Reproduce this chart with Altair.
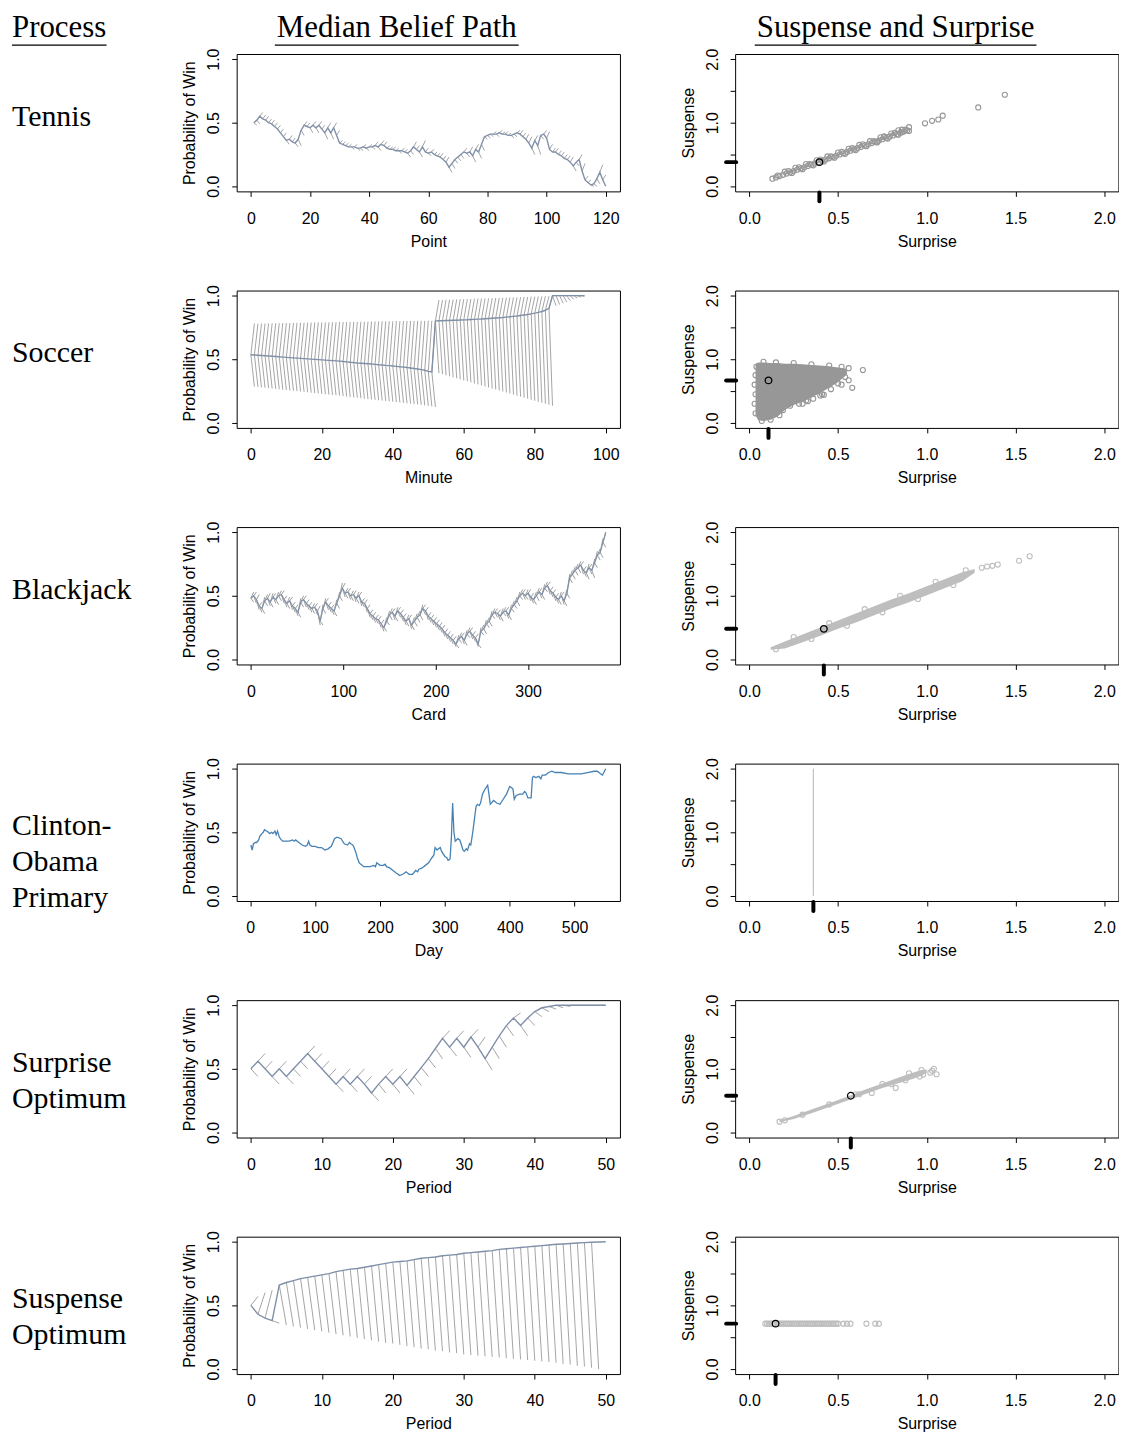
import altair as alt
import pandas as pd

# ---------------------------------------------------------------- text
headers = ["Process", "Median Belief Path", "Suspense and Surprise"]
process_labels = ["Tennis", "Soccer", "Blackjack", "Clinton-\nObama\nPrimary",
                  "Surprise\nOptimum", "Suspense\nOptimum"]
x_titles = ["Point", "Minute", "Card", "Day", "Period", "Period"]

# ---------------------------------------------------------------- belief paths
# Tennis: median path at points 1..120 ; unrealised branch ends at points 2..120
tennis_path = [.50, .52, .55, .53, .52, .50, .49, .47, .45, .42,
               .39, .36, .37, .35, .34, .37, .44, .48, .47, .46,
               .48, .46, .48, .45, .42, .46, .42, .46, .40, .34,
               .33, .32, .31, .31, .31, .30, .30, .31, .30, .31,
               .31, .32, .31, .33, .32, .30, .29, .29, .28, .28,
               .28, .27, .26, .28, .31, .29, .27, .31, .27, .26,
               .27, .25, .24, .23, .21, .19, .15, .18, .21, .23,
               .25, .27, .26, .27, .24, .29, .27, .33, .39, .40,
               .41, .41, .41, .42, .41, .41, .40, .40, .41, .42,
               .41, .39, .37, .34, .30, .36, .32, .40, .41, .38,
               .29, .27, .27, .25, .24, .22, .21, .19, .16, .19,
               .21, .12, .05, .03, .01, .02, .06, .11, .05, .00]
tennis_alt = [.48, .49, .58, .56, .55, .53, .52, .50, .48, .45,
              .42, .33, .40, .38, .31, .32, .40, .51, .50, .42,
              .51, .42, .51, .48, .37, .50, .37, .50, .44, .36,
              .35, .34, .33, .29, .33, .28, .28, .33, .28, .33,
              .29, .35, .28, .36, .35, .32, .31, .31, .30, .26,
              .30, .29, .23, .25, .35, .32, .23, .36, .30, .24,
              .29, .27, .26, .26, .24, .23, .11, .14, .18, .20,
              .22, .30, .23, .31, .19, .33, .22, .28, .37, .38,
              .39, .43, .39, .44, .43, .43, .42, .38, .39, .44,
              .44, .42, .41, .39, .25, .40, .25, .37, .44, .43,
              .33, .30, .30, .28, .27, .25, .24, .23, .12, .16,
              .25, .18, .08, .05, .00, .00, .02, .17, .09]

# Soccer: path at minutes 0..94 ; goal-for / goal-against branch ends at minutes 1..94
soccer_path = [.535, .533, .531, .529, .527, .525, .523, .521, .519, .517,
               .515, .513, .511, .509, .507, .505, .503, .501, .499, .497,
               .495, .493, .491, .489, .487, .485, .482, .479, .476, .473,
               .470, .468, .466, .464, .462, .460, .457, .455, .452, .450,
               .447, .444, .441, .438, .435, .431, .427, .423, .418, .413,
               .405, .400,
               .800, .802, .803, .804, .805, .806, .807, .808, .809, .810,
               .812, .813, .815, .816, .818, .820, .822, .824, .826, .828,
               .831, .834, .837, .840, .844, .848, .852, .857, .862, .868,
               .875, .885, .900,
               1.0, 1.0, 1.0, 1.0, 1.0, 1.0, 1.0, 1.0, 1.0, 1.0]
soccer_hi = [.780, .780, .781, .781, .782, .782, .783, .783, .784, .784,
             .785, .785, .786, .786, .787, .787, .788, .788, .789, .789,
             .790, .790, .791, .791, .792, .792, .793, .793, .794, .794,
             .795, .795, .796, .796, .797, .797, .798, .798, .799, .799,
             .800, .800, .800, .801, .801, .801, .802, .802, .802, .803,
             .803, .800,
             .965, .966, .967, .968, .969, .970, .971, .972, .973, .974,
             .975, .976, .977, .978, .979, .980, .981, .982, .983, .984,
             .985, .986, .987, .988, .989, .990, .991, .992, .993, .994,
             .995, .996, 1.0,
             1.0, 1.0, 1.0, 1.0, 1.0, 1.0, 1.0, 1.0, 1.0]
soccer_lo = [.285, .282, .279, .276, .273, .270, .267, .264, .261, .258,
             .255, .252, .249, .246, .243, .240, .237, .234, .231, .228,
             .225, .222, .219, .216, .213, .210, .206, .203, .200, .197,
             .194, .190, .187, .184, .181, .178, .175, .172, .169, .166,
             .163, .160, .157, .154, .151, .148, .145, .141, .137, .133,
             .129, .125,
             .390, .382, .374, .366, .358, .350, .342, .334, .326, .318,
             .310, .302, .294, .286, .278, .270, .262, .254, .246, .238,
             .230, .222, .214, .206, .198, .190, .182, .174, .166, .158,
             .150, .142, .135,
             .920, .930, .940, .950, .960, .970, .980, .988, .995]

# Blackjack: path every third card 0..384 ; two sets of branch ends at cards 3..384
blackjack_path = [.48, .50, .47, .42, .40, .46, .48, .45, .49, .47,
                  .50, .51, .47, .44, .46, .42, .40, .37, .45, .47,
                  .44, .42, .40, .41, .38, .30, .40, .45, .42, .40,
                  .38, .44, .50, .56, .52, .53, .50, .51, .48, .50,
                  .45, .44, .40, .36, .34, .32, .31, .28, .25, .30,
                  .35, .37, .34, .38, .36, .33, .30, .32, .27, .30,
                  .33, .35, .40, .38, .34, .32, .30, .28, .26, .24,
                  .21, .19, .17, .15, .12, .16, .18, .15, .20, .22,
                  .19, .17, .12, .22, .24, .28, .30, .35, .37, .36,
                  .34, .37, .38, .35, .40, .43, .46, .50, .52, .50,
                  .52, .49, .47, .50, .53, .51, .56, .58, .54, .52,
                  .49, .47, .50, .46, .52, .64, .67, .70, .72, .74,
                  .70, .68, .72, .70, .76, .82, .84, .92, 1.00]
blackjack_alt = [.45, .53, .51, .45, .36, .42, .52, .41, .52, .43,
                 .46, .54, .50, .40, .49, .45, .43, .33, .41, .50,
                 .47, .45, .36, .44, .42, .27, .36, .48, .45, .43,
                 .34, .40, .46, .60, .48, .56, .46, .54, .44, .53,
                 .48, .47, .43, .39, .37, .35, .34, .31, .22, .27,
                 .31, .40, .30, .41, .39, .36, .26, .35, .23, .26,
                 .29, .31, .43, .41, .37, .35, .33, .31, .29, .27,
                 .24, .22, .20, .18, .09, .13, .21, .11, .17, .25,
                 .22, .20, .09, .19, .20, .25, .26, .32, .40, .39,
                 .30, .34, .41, .31, .37, .40, .42, .47, .55, .47,
                 .55, .52, .43, .46, .56, .47, .53, .61, .57, .55,
                 .52, .43, .53, .42, .48, .60, .63, .66, .68, .77,
                 .73, .63, .75, .64, .72, .78, .80, .88]
blackjack_alt2 = [.53, .44, .39, .37, .49, .51, .42, .52, .44, .53,
                  .54, .44, .41, .49, .39, .37, .34, .48, .50, .41,
                  .39, .37, .44, .35, .27, .43, .48, .39, .37, .35,
                  .47, .53, .60, .49, .56, .47, .54, .45, .53, .42,
                  .41, .37, .33, .31, .29, .28, .25, .22, .33, .38,
                  .40, .31, .41, .33, .30, .27, .35, .24, .33, .36,
                  .38, .43, .35, .31, .29, .27, .25, .23, .21, .18,
                  .16, .14, .12, .10, .19, .21, .12, .23, .25, .16,
                  .14, .10, .25, .27, .31, .33, .38, .40, .33, .31,
                  .40, .41, .32, .43, .46, .49, .53, .55, .47, .55,
                  .46, .44, .53, .56, .48, .59, .61, .51, .49, .46,
                  .44, .53, .43, .55, .67, .70, .73, .75, .77, .67,
                  .65, .75, .67, .79, .85, .87, .95, .99]

# Clinton-Obama primary: daily probability (sampled days)
clinton_day = [1, 3, 5, 8, 10, 13, 15, 18, 20, 22,
               25, 28, 30, 33, 35, 38, 40, 42, 45, 48,
               50, 55, 60, 65, 68, 70, 75, 80, 85, 88,
               90, 92, 95, 100, 105, 110, 115, 120, 125, 130,
               133, 135, 140, 145, 150, 153, 155, 158, 160, 163,
               165, 168, 170, 175, 180, 185, 190, 193, 195, 200,
               205, 208, 210, 215, 220, 225, 228, 230, 235, 238,
               240, 245, 250, 252, 255, 258, 260, 265, 270, 275,
               280, 283, 285, 288, 290, 293, 295, 300, 303, 305,
               308, 310, 312, 314, 316, 320, 323, 325, 328, 330,
               333, 335, 338, 340, 343, 345, 348, 350, 353, 355,
               358, 362, 366, 368, 370, 375, 380, 385, 390, 395,
               400, 403, 405, 407, 410, 415, 420, 423, 425, 428,
               433, 435, 437, 440, 445, 448, 450, 455, 460, 465,
               470, 480, 490, 500, 510, 520, 530, 535, 540, 543,
               545, 548]
clinton_prob = [.40, .36, .41, .42, .42, .44, .47, .49, .50, .52,
                .51, .50, .49, .50, .49, .51, .48, .51, .46, .44,
                .43, .43, .43, .44, .43, .44, .42, .40, .39, .40,
                .43, .40, .39, .39, .38, .38, .36, .37, .39, .45,
                .46, .46, .45, .41, .40, .42, .41, .40, .38, .34,
                .30, .26, .25, .23, .23, .23, .24, .23, .26, .24,
                .24, .25, .23, .22, .20, .18, .17, .16, .17, .18,
                .19, .17, .17, .18, .20, .19, .21, .22, .24, .26,
                .30, .32, .38, .36, .37, .38, .35, .31, .30, .28,
                .29, .45, .73, .50, .43, .45, .44, .41, .36, .35,
                .37, .36, .41, .40, .50, .58, .70, .72, .71, .73,
                .80, .84, .87, .80, .72, .75, .73, .72, .76, .80,
                .86, .85, .84, .76, .79, .80, .80, .82, .81, .77,
                .77, .93, .94, .93, .94, .92, .95, .95, .97, .98,
                .97, .97, .96, .96, .96, .97, .98, .98, .96, .95,
                .97, 1.00]

# Surprise optimum: path at periods 0..50 ; branch ends at periods 1..50
surpopt_path = [.50, .56, .50, .44, .50, .44, .50, .56, .62, .56,
                .50, .44, .38, .44, .38, .44, .38, .31, .38, .44,
                .38, .44, .37, .44, .51, .58, .66, .74, .67, .74,
                .67, .75, .67, .58, .67, .76, .84, .90, .84, .90,
                .95, .98, .99, 1.0, 1.0, 1.0, 1.0, 1.0, 1.0, 1.0,
                1.0]
surpopt_alt = [.44, .62, .56, .38, .56, .38, .44, .50, .68, .62,
               .56, .50, .32, .50, .32, .50, .44, .25, .31, .50,
               .31, .50, .30, .37, .44, .51, .58, .80, .60, .80,
               .59, .81, .75, .49, .58, .67, .76, .94, .76, .84,
               .91, .95, .97, .98, .99, 1.0, 1.0, 1.0, 1.0, 1.0]

# Suspense optimum: path at periods 0..50 ; branch ends at periods 1..49
suspopt_path = [.50, .43, .40, .38, .66, .68, .695, .71, .72, .73,
                .74, .75, .765, .775, .785, .79, .80, .81, .82, .83,
                .84, .845, .85, .86, .87, .875, .88, .89, .895, .90,
                .91, .915, .92, .925, .93, .94, .945, .95, .955, .96,
                .965, .97, .975, .98, .983, .986, .99, .993, .996, .998,
                1.0]
suspopt_alt = [.57, .60, .62, .36, .345, .335, .325, .315, .305, .295,
               .285, .275, .265, .255, .245, .235, .225, .215, .205, .20,
               .19, .18, .17, .16, .155, .145, .14, .13, .125, .115,
               .11, .105, .10, .095, .09, .085, .08, .075, .07, .065,
               .06, .055, .05, .04, .035, .025, .02, .01, .00]

# ---------------------------------------------------------------- suspense / surprise
tennis_sur = [0.13, 0.15, 0.17, 0.19, 0.21, 0.23, 0.25, 0.27, 0.29, 0.31,
              0.33, 0.35, 0.37, 0.39, 0.41, 0.43, 0.45, 0.47, 0.49, 0.51,
              0.53, 0.55, 0.57, 0.59, 0.61, 0.63, 0.65, 0.67, 0.69, 0.71,
              0.73, 0.75, 0.77, 0.79, 0.81, 0.83, 0.85, 0.87, 0.89, 0.90,
              0.20, 0.26, 0.32, 0.38, 0.44, 0.50, 0.56, 0.62, 0.68, 0.74, 0.80, 0.86,
              0.24, 0.30, 0.36, 0.42, 0.48, 0.54, 0.60, 0.66, 0.72, 0.78, 0.84, 0.90,
              0.16, 0.22, 0.28, 0.34, 0.40, 0.46, 0.52, 0.58, 0.64, 0.70, 0.76, 0.82, 0.88,
              0.84, 0.86, 0.76, 0.72,
              0.99, 1.03, 1.065, 1.09, 1.29, 1.44]
tennis_sus = [0.12, 0.14, 0.16, 0.18, 0.20, 0.22, 0.24, 0.26, 0.28, 0.30,
              0.32, 0.34, 0.36, 0.38, 0.40, 0.42, 0.44, 0.46, 0.48, 0.50,
              0.52, 0.54, 0.56, 0.58, 0.60, 0.62, 0.64, 0.66, 0.68, 0.70,
              0.72, 0.74, 0.76, 0.78, 0.80, 0.82, 0.84, 0.86, 0.88, 0.93,
              0.23, 0.29, 0.35, 0.41, 0.47, 0.53, 0.59, 0.65, 0.71, 0.77, 0.83, 0.89,
              0.21, 0.27, 0.33, 0.39, 0.45, 0.51, 0.57, 0.63, 0.69, 0.75, 0.81, 0.87,
              0.17, 0.24, 0.30, 0.35, 0.42, 0.47, 0.54, 0.60, 0.66, 0.71, 0.78, 0.84, 0.89,
              0.88, 0.85, 0.78, 0.70,
              0.99, 1.03, 1.05, 1.11, 1.24, 1.44]

soccer_cloud_x = [0.035, 0.05, 0.08, 0.12, 0.16, 0.20, 0.25, 0.30, 0.35, 0.40, 0.45, 0.50, 0.55]
soccer_cloud_top = [0.93, 0.95, 0.95, 0.94, 0.94, 0.93, 0.93, 0.92, 0.91, 0.90, 0.89, 0.87, 0.85]
soccer_cloud_bot = [0.12, 0.04, 0.03, 0.05, 0.10, 0.20, 0.28, 0.33, 0.40, 0.47, 0.55, 0.64, 0.76]
soccer_sur = [0.035, 0.030, 0.035, 0.030, 0.035, 0.040,
              0.08, 0.15, 0.25, 0.35, 0.45, 0.52, 0.56,
              0.07, 0.12, 0.17, 0.19, 0.23, 0.28, 0.32, 0.36, 0.41, 0.46, 0.50, 0.54,
              0.64, 0.58, 0.56, 0.52, 0.42, 0.40, 0.33, 0.30]
soccer_sus = [0.15, 0.30, 0.45, 0.60, 0.75, 0.88,
              0.96, 0.95, 0.94, 0.92, 0.90, 0.88, 0.86,
              0.03, 0.05, 0.12, 0.20, 0.27, 0.30, 0.35, 0.38, 0.45, 0.53, 0.62, 0.72,
              0.83, 0.55, 0.67, 0.60, 0.44, 0.43, 0.34, 0.30]

blackjack_cloud_x = [0.12, 0.20, 0.30, 0.40, 0.50, 0.60, 0.70, 0.80, 0.90, 1.00, 1.10, 1.20, 1.27]
blackjack_cloud_top = [0.19, 0.28, 0.39, 0.50, 0.61, 0.72, 0.83, 0.94, 1.04, 1.15, 1.26, 1.37, 1.42]
blackjack_cloud_bot = [0.15, 0.17, 0.27, 0.37, 0.48, 0.58, 0.69, 0.80, 0.90, 1.01, 1.12, 1.23, 1.36]
blackjack_sur = [0.25, 0.45, 0.65, 0.85, 1.05, 1.22, 0.15, 0.35, 0.55, 0.75, 0.95, 1.15,
                 1.31, 1.34, 1.37, 1.40, 1.52, 1.58]
blackjack_sus = [0.35, 0.57, 0.79, 1.00, 1.22, 1.40, 0.16, 0.32, 0.53, 0.74, 0.95, 1.17,
                 1.44, 1.46, 1.47, 1.49, 1.55, 1.62]

surpopt_cloud_x = [0.17, 0.25, 0.35, 0.45, 0.55, 0.65, 0.75, 0.85, 0.92, 0.97, 1.00]
surpopt_cloud_top = [0.19, 0.26, 0.36, 0.46, 0.56, 0.67, 0.77, 0.87, 0.94, 0.98, 0.99]
surpopt_cloud_bot = [0.16, 0.21, 0.30, 0.40, 0.50, 0.60, 0.70, 0.78, 0.84, 0.89, 0.94]
surpopt_sur = [1.04, 1.055, 1.02, 1.03, 0.825, 0.69, 0.62, 0.98, 0.96,
               0.17, 0.20, 0.30, 0.45, 0.60, 0.75, 0.90, 0.97, 0.80, 0.88]
surpopt_sus = [1.00, 0.915, 0.94, 0.97, 0.70, 0.62, 0.60, 0.91, 0.88,
               0.17, 0.19, 0.28, 0.44, 0.60, 0.76, 0.93, 0.98, 0.76, 0.82]

suspopt_sur = [0.09, 0.10, 0.11, 0.12, 0.13, 0.14, 0.16, 0.17, 0.18, 0.19,
               0.20, 0.21, 0.22, 0.23, 0.24, 0.25, 0.26, 0.27, 0.28, 0.29,
               0.30, 0.31, 0.32, 0.33, 0.34, 0.35, 0.36, 0.37, 0.38, 0.39,
               0.40, 0.41, 0.42, 0.43, 0.44, 0.45, 0.46, 0.47, 0.48, 0.49,
               0.50, 0.53, 0.55, 0.57, 0.66, 0.71, 0.73]
suspopt_level = 0.713

clinton_surprise = 0.361

# medians (black circle) and rug positions
median_sur = [0.395, 0.108, 0.42, 0.361, 0.572, 0.148]
median_sus = [0.38, 0.667, 0.48, None, 0.577, 0.713]

# ---------------------------------------------------------------- styling
SERIF = "Liberation Serif"
SANS = "Liberation Sans"
PATH_COLOR = "#8090A8"
HAIR_COLOR = "#A4A4A4"
CLINTON_COLOR = "#4682B4"
DARK_PT = "#979797"
LIGHT_PT = "#BEBEBE"
W, H = 385, 138
LABEL_W = 113
HEAD_Y = -17
UL_Y = -9


def x_axis(values, title, fmt):
    return alt.Axis(values=values, title=title, format=fmt, labelFlush=False,
                    labelOverlap=False, labelPadding=14, titlePadding=7)


def y_axis(values, title, label_expr):
    return alt.Axis(values=values, title=title, labelExpr=label_expr,
                    labelAngle=270, labelAlign="center", labelBaseline="alphabetic",
                    labelPadding=13, titlePadding=8, labelOverlap=False,
                    labelFlush=False)


def header_layers(text, tx, align, u1, u2):
    d = pd.DataFrame({"t": [text]})
    t = alt.Chart(d).mark_text(font=SERIF, fontSize=31, align=align,
                               baseline="alphabetic", color="black").encode(
        text="t:N", x=alt.value(tx), y=alt.value(HEAD_Y))
    u = alt.Chart(d).mark_rule(color="black", strokeWidth=1.2).encode(
        x=alt.value(u1), x2=alt.value(u2), y=alt.value(UL_Y))
    return [t, u]


def hairs(x_from, y_from, x_to, y_to):
    return pd.DataFrame({"x": x_from, "y": y_from, "x2": x_to, "y2": y_to})


def belief_chart(px, py, hair_frames, xdom, xticks, xtitle, color, lw,
                 hair_color=HAIR_COLOR, extra=()):
    xs = alt.Scale(domain=xdom, nice=False, zero=False)
    ys = alt.Scale(domain=[-0.04, 1.04], nice=False, zero=False)
    xenc = alt.X("x:Q", scale=xs, axis=x_axis(xticks, xtitle, "d"))
    yenc = alt.Y("y:Q", scale=ys, axis=y_axis([0, 0.5, 1], "Probability of Win",
                                            "format(datum.value, '.1f')"))
    layers = []
    for hf in hair_frames:
        layers.append(alt.Chart(hf).mark_rule(color=hair_color, strokeWidth=1).encode(
            x=xenc, y=yenc, x2="x2:Q", y2="y2:Q"))
    layers.append(alt.Chart(pd.DataFrame({"x": px, "y": py})).mark_line(
        color=color, strokeWidth=lw).encode(x=xenc, y=yenc))
    layers.extend(extra)
    return alt.layer(*layers).properties(width=W, height=H)


def scatter_chart(sx, sy, color, cloud=None, center=None, rug_x=None, rug_y=None,
                  vline=None, extra=()):
    xs = alt.Scale(domain=[-0.08, 2.08], nice=False, zero=False)
    ys = alt.Scale(domain=[-0.08, 2.08], nice=False, zero=False)
    xenc = alt.X("x:Q", scale=xs, axis=x_axis([0, 0.5, 1, 1.5, 2], "Surprise", ".1f"))
    yenc = alt.Y("y:Q", scale=ys, axis=y_axis(
        [0, 0.5, 1, 1.5, 2], "Suspense",
        "datum.value == 0.5 || datum.value == 1.5 ? '' : format(datum.value, '.1f')"))
    layers = []
    if cloud is not None:
        cx, ctop, cbot = cloud
        layers.append(alt.Chart(pd.DataFrame({"x": cx, "y": ctop, "y2": cbot})).mark_area(
            color=color, opacity=1).encode(x=xenc, y=yenc, y2="y2:Q"))
    if vline is not None:
        layers.append(alt.Chart(pd.DataFrame({"x": [vline], "y": [0.0], "y2": [2.0]})).mark_rule(
            color="#C4C4C4", strokeWidth=1.3).encode(x=xenc, y=yenc, y2="y2:Q"))
    if sx:
        layers.append(alt.Chart(pd.DataFrame({"x": sx, "y": sy})).mark_point(
            shape="circle", filled=False, size=26, strokeWidth=1.1, color=color,
            opacity=1).encode(x=xenc, y=yenc))
    if center is not None:
        layers.append(alt.Chart(pd.DataFrame({"x": [center[0]], "y": [center[1]]})).mark_point(
            shape="circle", filled=False, size=44, strokeWidth=1.3, color="black",
            opacity=1).encode(x=xenc, y=yenc))
    if rug_x is not None:
        layers.append(alt.Chart(pd.DataFrame({"x": [rug_x]})).mark_rule(
            color="black", strokeWidth=4, strokeCap="round").encode(
            x=xenc, y=alt.value(H + 1), y2=alt.value(H + 10)))
    if rug_y is not None:
        layers.append(alt.Chart(pd.DataFrame({"y": [rug_y]})).mark_rule(
            color="black", strokeWidth=4, strokeCap="round").encode(
            y=yenc, x=alt.value(-9), x2=alt.value(1)))
    layers.extend(extra)
    return alt.layer(*layers).properties(width=W, height=H)


def label_chart(text, extra=()):
    d = pd.DataFrame({"t": [text]})
    t = alt.Chart(d).mark_text(font=SERIF, fontSize=30, align="left", baseline="middle",
                               lineBreak="\n", lineHeight=36, color="black").encode(
        text="t:N", x=alt.value(3), y=alt.value(63))
    return alt.layer(t, *extra).properties(
        width=LABEL_W, height=H, view=alt.ViewBackground(stroke="transparent"))


# ---------------------------------------------------------------- hair tables
t_tennis = list(range(1, len(tennis_path) + 1))
tennis_h = hairs(t_tennis[:-1], tennis_path[:-1], t_tennis[1:], tennis_alt)

t_soccer = list(range(len(soccer_path)))
soccer_h1 = hairs(t_soccer[:-1], soccer_path[:-1], t_soccer[1:], soccer_hi)
soccer_h2 = hairs(t_soccer[:-1], soccer_path[:-1], t_soccer[1:], soccer_lo)

t_bj = [3 * i for i in range(len(blackjack_path))]
bj_h1 = hairs(t_bj[:-1], blackjack_path[:-1], t_bj[1:], blackjack_alt)
bj_h2 = hairs(t_bj[:-1], blackjack_path[:-1], t_bj[1:], blackjack_alt2)

t_opt = list(range(len(surpopt_path)))
surp_h = hairs(t_opt[:-1], surpopt_path[:-1], t_opt[1:], surpopt_alt)
n_s = len(suspopt_alt)
susp_h = hairs(t_opt[:n_s], suspopt_path[:n_s], t_opt[1:n_s + 1], suspopt_alt)

# ---------------------------------------------------------------- panels
cells = []

# row 1 : tennis (with column headers)
cells.append(label_chart(process_labels[0], header_layers(headers[0], 3, "left", 3, 98)))
cells.append(belief_chart(t_tennis, tennis_path, [tennis_h], [-4.8, 124.8],
                          list(range(0, 121, 20)), x_titles[0], PATH_COLOR, 1.4,
                          extra=header_layers(headers[1], 160.8, "center", 38.3, 283.3)))
cells.append(scatter_chart(tennis_sur, tennis_sus, DARK_PT,
                           center=(median_sur[0], median_sus[0]),
                           rug_x=median_sur[0], rug_y=median_sus[0],
                           extra=header_layers(headers[2], 161.2, "center", 19.7, 302.7)))

# row 2 : soccer
cells.append(label_chart(process_labels[1]))
cells.append(belief_chart(t_soccer, soccer_path, [soccer_h1, soccer_h2], [-4, 104],
                          list(range(0, 101, 20)), x_titles[1], PATH_COLOR, 1.4))
cells.append(scatter_chart(soccer_sur, soccer_sus, DARK_PT,
                           cloud=(soccer_cloud_x, soccer_cloud_top, soccer_cloud_bot),
                           center=(median_sur[1], median_sus[1]),
                           rug_x=median_sur[1], rug_y=median_sus[1]))

# row 3 : blackjack
cells.append(label_chart(process_labels[2]))
cells.append(belief_chart(t_bj, blackjack_path, [bj_h1, bj_h2], [-15.4, 399.4],
                          [0, 100, 200, 300, 400], x_titles[2], PATH_COLOR, 1.2,
                          hair_color="#9C9C9C"))
cells.append(scatter_chart(blackjack_sur, blackjack_sus, LIGHT_PT,
                           cloud=(blackjack_cloud_x, blackjack_cloud_top, blackjack_cloud_bot),
                           center=(median_sur[2], median_sus[2]),
                           rug_x=median_sur[2], rug_y=median_sus[2]))

# row 4 : Clinton-Obama
cells.append(label_chart(process_labels[3]))
cells.append(belief_chart(clinton_day, clinton_prob, [], [-20.9, 569.9],
                          [0, 100, 200, 300, 400, 500], x_titles[3], CLINTON_COLOR, 1.3))
cells.append(scatter_chart([], [], LIGHT_PT, rug_x=median_sur[3], vline=clinton_surprise))

# row 5 : surprise optimum
cells.append(label_chart(process_labels[4]))
cells.append(belief_chart(t_opt, surpopt_path, [surp_h], [-2, 52],
                          [0, 10, 20, 30, 40, 50], x_titles[4], PATH_COLOR, 1.4))
cells.append(scatter_chart(surpopt_sur, surpopt_sus, LIGHT_PT,
                           cloud=(surpopt_cloud_x, surpopt_cloud_top, surpopt_cloud_bot),
                           center=(median_sur[4], median_sus[4]),
                           rug_x=median_sur[4], rug_y=median_sus[4]))

# row 6 : suspense optimum
cells.append(label_chart(process_labels[5]))
cells.append(belief_chart(t_opt, suspopt_path, [susp_h], [-2, 52],
                          [0, 10, 20, 30, 40, 50], x_titles[5], PATH_COLOR, 1.4))
cells.append(scatter_chart(suspopt_sur, [suspopt_level] * len(suspopt_sur), LIGHT_PT,
                           center=(median_sur[5], median_sus[5]),
                           rug_x=median_sur[5], rug_y=median_sus[5]))

chart = alt.concat(
    *cells, columns=3, spacing={"row": 99.6, "column": 115.7},
    bounds="flush", align="each"
).properties(
    padding=0
).configure(
    font=SANS
).configure_view(
    stroke="black", strokeWidth=1
).configure_axis(
    labelFont=SANS, titleFont=SANS, labelFontSize=16, titleFontSize=16,
    titleFontWeight="normal", labelColor="black", titleColor="black",
    tickColor="black", tickSize=5, tickWidth=1, domain=False, grid=False
)

chart.save("out.html", embed_options={"renderer": "svg", "actions": False})
